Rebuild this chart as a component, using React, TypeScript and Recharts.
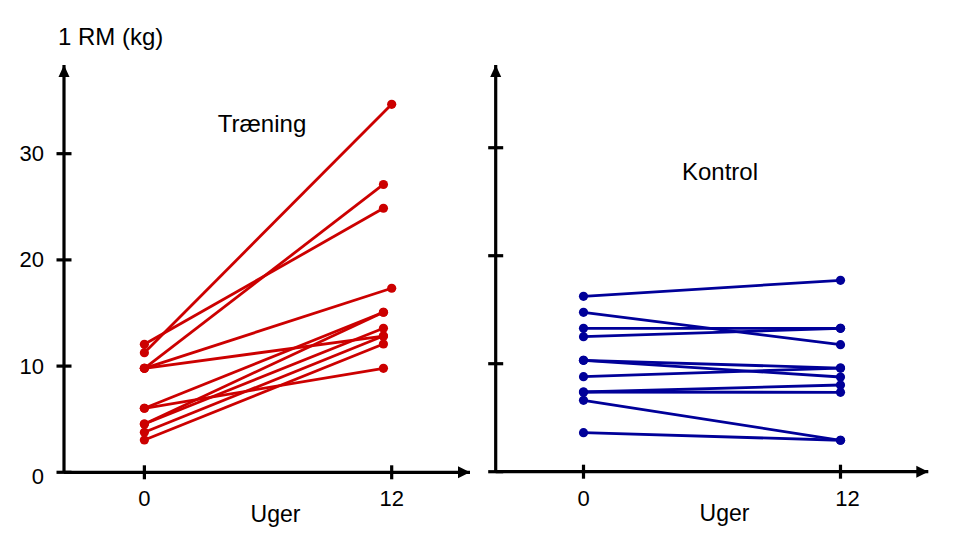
import React from 'react';
import { LineChart, Line, XAxis, YAxis, ReferenceDot } from 'recharts';

// ---- data ----
const weekTicks = [0, 12];
const yTicks = [0, 10, 20, 30];

const traeningPre = [11.26, 12.05, 9.79, 9.79, 9.79, 6.03, 6.03, 4.55, 4.55, 3.77, 3.04];
const traeningPost = [34.65, 24.86, 27.1, 17.33, 12.83, 15.07, 9.79, 15.07, 13.56, 12.83, 12.08];
const traeningPostWeek = [12, 11.6, 11.6, 12, 11.6, 11.6, 11.6, 11.6, 11.6, 11.6, 11.6];

const kontrolPre = [16.24, 14.76, 13.28, 12.5, 10.31, 10.31, 8.8, 7.38, 7.38, 6.61, 3.61];
const kontrolPost = [17.72, 11.76, 13.28, 13.28, 9.6, 8.77, 9.6, 8.03, 7.35, 2.91, 2.91];
const kontrolPostWeek = [12, 12, 12, 12, 12, 12, 12, 12, 12, 12, 12];

const RED = '#CC0000';
const BLUE = '#000099';
const FONT = '"Liberation Sans", Arial, sans-serif';
const FS = 22;
const FS_WORD = 24;

const buildSeries = (pre: number[], post: number[], postWeek: number[]) =>
  pre.map((p, i) => [
    { x: weekTicks[0], y: p },
    { x: postWeek[i], y: post[i] },
  ]);

const YTick = (props: any) => {
  const { x, y, payload, showLabel } = props;
  return (
    <g>
      <line x1={x - 7.5} x2={x + 7.5} y1={y} y2={y} stroke="#000" strokeWidth={3.2} />
      {showLabel && (
        <text
          x={x - 20}
          y={y + (payload.value === 0 ? 4 : 0)}
          textAnchor="end"
          dominantBaseline="central"
          fontFamily={FONT}
          fontSize={FS}
          fill="#000"
        >
          {payload.value}
        </text>
      )}
    </g>
  );
};

const XTick = (props: any) => {
  const { x, y, payload, labelShift } = props;
  const dx = payload.value === 12 ? labelShift : 0;
  return (
    <g>
      <line x1={x} x2={x} y1={y - 7} y2={y + 7} stroke="#000" strokeWidth={3.2} />
      <text x={x + dx} y={y + 34} textAnchor="middle" fontFamily={FONT} fontSize={FS} fill="#000">
        {payload.value}
      </text>
    </g>
  );
};

const ArrowRight = (props: any) => {
  const { cx, cy } = props;
  return <path d={`M${cx},${cy} L${cx - 12},${cy - 6} L${cx - 12},${cy + 6} Z`} fill="#000" />;
};
const ArrowUp = (props: any) => {
  const { cx, cy } = props;
  return <path d={`M${cx},${cy} L${cx - 5.5},${cy + 12} L${cx + 5.5},${cy + 12} Z`} fill="#000" />;
};

type PanelProps = {
  series: { x: number; y: number }[][];
  color: string;
  xDomain: [number, number];
  yDomain: [number, number];
  margin: { top: number; right: number; bottom: number; left: number };
  showYLabels: boolean;
  labelShift: number;
  ugerShift: number;
};

const Panel = ({ series, color, xDomain, yDomain, margin, showYLabels, labelShift, ugerShift }: PanelProps) => (
  <LineChart width={480} height={546} margin={margin}>
    <XAxis
      type="number"
      dataKey="x"
      domain={xDomain}
      ticks={weekTicks}
      height={1}
      tickSize={0}
      tickMargin={0}
      tickLine={false}
      axisLine={{ stroke: '#000', strokeWidth: 3.2 }}
      tick={(p: any) => <XTick {...p} labelShift={labelShift} />}
      allowDataOverflow
      interval={0}
      label={{
        content: (p: any) => (
          <text
            x={p.viewBox.x + p.viewBox.width / 2 + ugerShift}
            y={p.viewBox.y + 49.5}
            textAnchor="middle"
            fontFamily={FONT}
            fontSize={23}
            fill="#000"
          >
            Uger
          </text>
        ),
      }}
    />
    <YAxis
      type="number"
      domain={yDomain}
      ticks={yTicks}
      width={1}
      tickSize={0}
      tickMargin={0}
      tickLine={false}
      axisLine={{ stroke: '#000', strokeWidth: 3.2 }}
      tick={(p: any) => <YTick {...p} showLabel={showYLabels} />}
      allowDataOverflow
      interval={0}
    />
    {series.map((d, i) => (
      <Line
        key={i}
        data={d}
        dataKey="y"
        stroke={color}
        strokeWidth={2.8}
        dot={{ r: 4.6, fill: color, stroke: color, strokeWidth: 0 }}
        activeDot={false}
        isAnimationActive={false}
      />
    ))}
    <ReferenceDot x={xDomain[1]} y={yDomain[0]} ifOverflow="visible" shape={ArrowRight} />
    <ReferenceDot x={xDomain[0]} y={yDomain[1]} ifOverflow="visible" shape={ArrowUp} />
  </LineChart>
);

export default function App() {
  return (
    <div style={{ position: 'absolute', left: 0, top: 0, width: 960, height: 546, background: '#fff' }}>
      <div style={{ position: 'absolute', left: 0, top: 0 }}>
        <Panel
          series={buildSeries(traeningPre, traeningPost, traeningPostWeek)}
          color={RED}
          xDomain={[-3.9, 15.8]}
          yDomain={[0, 38.35]}
          margin={{ top: 65, right: 10, bottom: 72.7, left: 63 }}
          showYLabels={true}
          labelShift={0}
          ugerShift={8.5}
        />
      </div>
      <div style={{ position: 'absolute', left: 480, top: 0 }}>
        <Panel
          series={buildSeries(kontrolPre, kontrolPost, kontrolPostWeek)}
          color={BLUE}
          xDomain={[-4.1, 16.1]}
          yDomain={[0, 37.66]}
          margin={{ top: 65, right: 31.7, bottom: 73.3, left: 14.7 }}
          showYLabels={false}
          labelShift={7}
          ugerShift={12.5}
        />
      </div>
      <svg
        width={960}
        height={546}
        style={{ position: 'absolute', left: 0, top: 0, pointerEvents: 'none' }}
      >
        <text x={58} y={44.5} fontFamily={FONT} fontSize={FS_WORD} fill="#000">1 RM (kg)</text>
        <text x={262} y={132} textAnchor="middle" fontFamily={FONT} fontSize={FS_WORD} fill="#000">Træning</text>
        <text x={720} y={179.5} textAnchor="middle" fontFamily={FONT} fontSize={FS_WORD} fill="#000">Kontrol</text>
      </svg>
    </div>
  );
}
